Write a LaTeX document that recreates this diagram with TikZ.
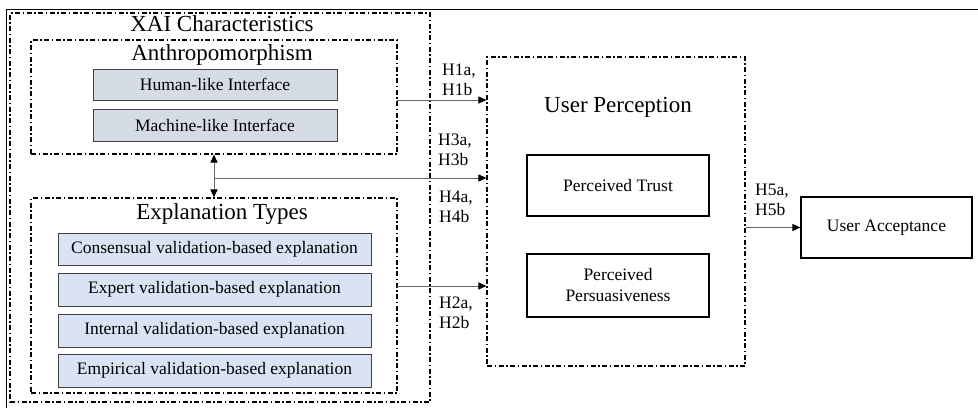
\documentclass[tikz,border=0pt]{standalone}
\usepackage{fontspec}
\setmainfont{Liberation Serif}
\usepackage{tikz}
\usepackage{xcolor}
\usetikzlibrary{arrows.meta}
\definecolor{anthro-fill}{HTML}{D6DCE5}
\definecolor{expl-fill}{HTML}{DAE3F3}
\tikzset{
    dash-box/.style = {draw, line width=1.1pt, dash pattern=on 5pt off 2.5pt on 1.5pt off 2.5pt, rectangle, inner sep=0pt},
    item-box/.style = {draw=black!75, line width=0.9pt, rectangle, inner sep=0pt, font=\fontsize{17.5}{20}\selectfont},
    plain-box/.style = {draw, line width=1.2pt, rectangle, inner sep=0pt, align=center, font=\fontsize{17.5}{21}\selectfont},
    box-title/.style = {inner sep=0pt, font=\fontsize{23}{26}\selectfont},
    hyp-label/.style = {inner sep=0pt, anchor=west, align=left, font=\fontsize{17.5}{20}\selectfont},
    hyp-arrow/.style = {draw=black!60, line width=1pt, -{Triangle[length=8pt,width=7pt,color=black]}},
}

\begin{document}
\begin{tikzpicture}[x=1pt,y=-1pt]
\useasboundingbox (0,0) rectangle (978,408);
\draw[line width=1pt] (978,9) -- (6,9) -- (6,408);

\node[dash-box, minimum width=420, minimum height=389] (xai) at (220,207.5) {};
\node[box-title] (xai-title) at (222,24) {XAI Characteristics};

\node[dash-box, minimum width=366, minimum height=114] (anthro) at (214,97) {};
\node[box-title] (anthro-title) at (222,55) {Anthropomorphism};
\node[item-box, fill=anthro-fill, minimum width=244, minimum height=31] (human) at (215,84.5) {Human-like Interface};
\node[item-box, fill=anthro-fill, minimum width=244, minimum height=32] (machine) at (215,125) {Machine-like Interface};

\node[dash-box, minimum width=366, minimum height=195] (expl) at (214,295.5) {};
\node[box-title] (expl-title) at (222,214) {Explanation Types};
\node[item-box, fill=expl-fill, minimum width=313, minimum height=32] (consensual) at (214.5,249) {Consensual validation-based explanation};
\node[item-box, fill=expl-fill, minimum width=313, minimum height=33] (expert) at (214.5,289.5) {Expert validation-based explanation};
\node[item-box, fill=expl-fill, minimum width=313, minimum height=33] (internal) at (214.5,330.5) {Internal validation-based explanation};
\node[item-box, fill=expl-fill, minimum width=313, minimum height=33] (empirical) at (214.5,370.5) {Empirical validation-based explanation};

\node[dash-box, minimum width=258, minimum height=309] (perc) at (616,211.5) {};
\node[box-title] (perc-title) at (618,107) {User Perception};
\node[plain-box, minimum width=182, minimum height=61] (trust) at (618,185.5) {Perceived Trust};
\node[plain-box, minimum width=182, minimum height=63] (persu) at (618,285.5) {Perceived\\Persuasiveness};

\node[plain-box, minimum width=171, minimum height=61] (accept) at (886.5,227.5) {User Acceptance};

\coordinate (link) at (214,178);
\coordinate (h1-start) at (397,100);
\coordinate (h2-start) at (397,286);

\draw[hyp-arrow, {Triangle[length=8pt,width=7pt,color=black]}-{Triangle[length=8pt,width=7pt,color=black]}] (anthro.south) -- (expl.north);
\draw[hyp-arrow] (h1-start) -- (h1-start -| perc.west);
\draw[hyp-arrow] (link) -- (link -| perc.west);
\draw[hyp-arrow] (h2-start) -- (h2-start -| perc.west);
\draw[hyp-arrow] (perc.east |- accept.west) -- (accept.west);

\node[hyp-label] (h1) at (442,80) {H1a,\\H1b};
\node[hyp-label] (h3) at (438,150) {H3a,\\H3b};
\node[hyp-label] (h4) at (439,207) {H4a,\\H4b};
\node[hyp-label] (h2) at (439,313) {H2a,\\H2b};
\node[hyp-label] (h5) at (755,200) {H5a,\\H5b};
\end{tikzpicture}
\end{document}
